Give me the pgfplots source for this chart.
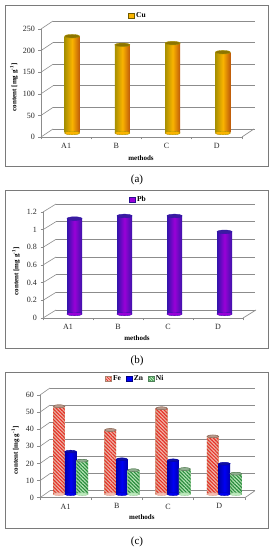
\documentclass[border=0pt]{standalone}
\usepackage{fontspec}
\setmainfont{Liberation Serif}
\usepackage{pgfplots}
\usepackage{pgfplotstable}
\pgfplotsset{compat=1.18}
\usetikzlibrary{patterns.meta}
\definecolor{gridc}{HTML}{8C8C8C}
\definecolor{framec}{HTML}{7A7A7A}
% Cu
\definecolor{cuL}{HTML}{A89000}\definecolor{cuM}{HTML}{FAB400}\definecolor{cuR}{HTML}{BE5A0A}
\definecolor{cuT}{HTML}{8C7400}\definecolor{cuE}{HTML}{6E5A00}
% Pb
\definecolor{pbL}{HTML}{3214AA}\definecolor{pbM}{HTML}{9A00D8}\definecolor{pbR}{HTML}{3C14AA}
\definecolor{pbT}{HTML}{3A1CA0}\definecolor{pbE}{HTML}{2A1090}
% Fe
\definecolor{feL}{HTML}{F8B8AE}\definecolor{feR}{HTML}{D8AC94}\definecolor{feH}{HTML}{E63228}
\definecolor{feT}{HTML}{B89A8C}\definecolor{feE}{HTML}{806050}\definecolor{feD}{HTML}{AA826E}
% Zn
\definecolor{znL}{HTML}{0000AA}\definecolor{znM}{HTML}{0000F5}
\definecolor{znT}{HTML}{1010A0}\definecolor{znE}{HTML}{000080}
% Ni
\definecolor{niL}{HTML}{BCEABC}\definecolor{niR}{HTML}{9CCF9C}\definecolor{niH}{HTML}{288C3C}
\definecolor{niT}{HTML}{90B090}\definecolor{niE}{HTML}{507050}\definecolor{niD}{HTML}{50825A}
\pgfplotsset{
  front/.style={
    scale only axis, anchor=south west, clip=false,
    xmin=0, xmax=4, axis lines=left, axis line style={-,gridc,line width=0.7pt},
    xtick={0,1,2,3,4}, x tick label as interval, xticklabels={A1,B,C,D},
    tick style={gridc,line width=0.5pt}, tick align=outside, major tick length=2.5pt,
    /pgf/number format/assume math mode=true,
    tick label style={font=\fontsize{8}{9.5}\selectfont, text=black!85},
    label style={font=\bfseries\fontsize{7}{8}\selectfont},
    xlabel={methods}, ylabel={content [mg g\textsuperscript{-1}]},
  },
  backw/.style={
    scale only axis, anchor=south west, clip=false,
    xmin=0, xmax=4, xtick=\empty, ymajorgrids, yticklabels={},
    major tick length=0pt, axis line style={draw=none},
    major grid style={gridc,line width=0.8pt},
  },
  bars/.style={
    scale only axis, anchor=south west, clip=false, hide axis,
    xmin=0, xmax=4,
    legend style={draw=none, fill=none, font=\bfseries\fontsize{7.5}{9}\selectfont,
      legend columns=-1, inner sep=1pt,
      /tikz/every even column/.append style={column sep=3pt}},
  },
  sq/.style={legend image code/.code={\draw[##1] (0pt,-2.5pt) rectangle (5.5pt,2.5pt);}},
  capm/.style n args={3}{only marks, forget plot, mark=*, mark size=#1,
    mark options={xscale=1, yscale=0.24, fill=#2, draw=#3, line width=0.4pt}},
  base/.style n args={3}{only marks, forget plot, mark=*, mark size=#1,
    mark options={xscale=1, yscale=0.24, fill=#2, draw=#3, line width=0.4pt}},
  hatchFe/.style={forget plot, ybar, bar shift=0pt, draw=none,
    pattern={Lines[angle=-45,distance=2.5pt,line width=1.1pt]}, pattern color=feH},
  hatchNi/.style={forget plot, ybar, bar shift=0pt, draw=none,
    pattern={Lines[angle=-45,distance=2.5pt,line width=1.1pt]}, pattern color=niH},
}
% one cylinder: #1 half width, #2 bar width, #3 #4 #5 colours L M R, #6 cap colour, #7 x, #8 y
\newcommand{\cyl}[8]{%
  \addplot[base={#1}{#4}{#3}] coordinates {(#7,0)};
  \addplot[forget plot, ybar, bar shift=0pt, bar width=#2, draw=none,
     left color=#3, right color=#5, middle color=#4] coordinates {(#7,#8)};
  \addplot[capm={#1}{#6}{#3}] coordinates {(#7,#8)};
}
\begin{document}
\begin{tikzpicture}[x=1pt,y=1pt]
\useasboundingbox (0,0) rectangle (274,550);
\draw[framec,line width=0.7pt] (5,384) rectangle (268,545);
\draw[framec,line width=0.7pt] (5,202) rectangle (268,360);
\draw[framec,line width=0.7pt] (5,22) rectangle (268,178);
\node[font=\fontsize{11}{13}\selectfont] at (137,370) {(a)};
\node[font=\fontsize{11}{13}\selectfont] at (137,189) {(b)};
\node[font=\fontsize{11}{13}\selectfont] at (137,8.5) {(c)};

% ---------- panel a
\begin{axis}[backw, at={(53pt,421pt)}, width=202pt, height=108pt,
  ymin=0, ymax=250, ytick={0,50,100,150,200,250}]
\end{axis}
\begin{axis}[front, at={(41pt,413pt)}, width=201pt, height=108pt,
  ymin=0, ymax=250, ytick={0,50,100,150,200,250},
  ylabel style={at={(axis description cs:-0.134,0.46)},anchor=center,rotate=0},
  xlabel style={at={(axis description cs:0.4975,-0.194)},anchor=center}]
\pgfplotsinvokeforeach{0,50,100,150,200,250}{
  \draw[gridc,line width=0.6pt] (axis cs:0,#1) -- ++(12pt,8pt);}
\draw[gridc,line width=0.7pt] (axis cs:4,0) -- ++(12pt,8pt);
\end{axis}
\begin{axis}[bars, at={(47pt,417pt)}, width=201pt, height=108pt, ymin=0, ymax=250,
  legend style={at={(axis description cs:0.453,1.083)},anchor=center}]
\addlegendimage{sq, draw=cuE, fill=cuM}\addlegendentry{Cu}
\cyl{7.5pt}{15pt}{cuL}{cuM}{cuR}{cuT}{0.5}{224}
\cyl{7.5pt}{15pt}{cuL}{cuM}{cuR}{cuT}{1.5}{204}
\cyl{7.5pt}{15pt}{cuL}{cuM}{cuR}{cuT}{2.5}{208}
\cyl{7.5pt}{15pt}{cuL}{cuM}{cuR}{cuT}{3.5}{187}
\end{axis}

% ---------- panel b
\begin{axis}[backw, at={(56pt,240pt)}, width=199pt, height=106pt,
  ymin=0, ymax=1.2, ytick={0,0.2,0.4,0.6,0.8,1,1.2}]
\end{axis}
\begin{axis}[front, at={(43pt,232pt)}, width=200pt, height=106pt,
  ymin=0, ymax=1.2, ytick={0,0.2,0.4,0.6,0.8,1,1.2},
  ylabel style={at={(axis description cs:-0.135,0.44)},anchor=center,rotate=0},
  xlabel style={at={(axis description cs:0.47,-0.19)},anchor=center}]
\pgfplotsinvokeforeach{0,0.2,0.4,0.6,0.8,1,1.2}{
  \draw[gridc,line width=0.6pt] (axis cs:0,#1) -- ++(13pt,8pt);}
\draw[gridc,line width=0.7pt] (axis cs:4,0) -- ++(13pt,8pt);
\end{axis}
\begin{axis}[bars, at={(49.5pt,236pt)}, width=200pt, height=106pt, ymin=0, ymax=1.2,
  legend style={at={(axis description cs:0.445,1.075)},anchor=center}]
\addlegendimage{sq, draw=pbE, fill=pbM}\addlegendentry{Pb}
\cyl{7.5pt}{15pt}{pbL}{pbM}{pbR}{pbT}{0.5}{1.08}
\cyl{7.5pt}{15pt}{pbL}{pbM}{pbR}{pbT}{1.5}{1.11}
\cyl{7.5pt}{15pt}{pbL}{pbM}{pbR}{pbT}{2.5}{1.11}
\cyl{7.5pt}{15pt}{pbL}{pbM}{pbR}{pbT}{3.5}{0.93}
\end{axis}

% ---------- panel c
\begin{axis}[backw, at={(50pt,59.3pt)}, width=205pt, height=102.7pt,
  ymin=0, ymax=60, ytick={0,10,20,30,40,50,60}]
\end{axis}
\begin{axis}[front, at={(40pt,52.3pt)}, width=205pt, height=102.7pt,
  ymin=0, ymax=60, ytick={0,10,20,30,40,50,60},
  ylabel style={at={(axis description cs:-0.12,0.46)},anchor=center,rotate=0},
  xlabel style={at={(axis description cs:0.497,-0.185)},anchor=center}]
\pgfplotsinvokeforeach{0,10,20,30,40,50,60}{
  \draw[gridc,line width=0.6pt] (axis cs:0,#1) -- ++(10pt,7pt);}
\draw[gridc,line width=0.7pt] (axis cs:4,0) -- ++(10pt,7pt);
\end{axis}
\begin{axis}[bars, at={(45pt,55.8pt)}, width=205pt, height=102.7pt, ymin=0, ymax=60,
  legend style={at={(axis description cs:0.44,1.125)},anchor=center}]
\addlegendimage{sq, draw=feD, fill=feL, postaction={pattern={Lines[angle=-45,distance=2pt,line width=.7pt]}, pattern color=feH}}\addlegendentry{Fe}
\addlegendimage{sq, draw=znE, fill=znM}\addlegendentry{Zn}
\addlegendimage{sq, draw=niD, fill=niL, postaction={pattern={Lines[angle=-45,distance=2pt,line width=.7pt]}, pattern color=niH}}\addlegendentry{Ni}
% Fe
\cyl{5.8pt}{11.7pt}{feR}{feL}{feR}{feT}{0.275}{51.4}
\addplot[hatchFe, bar width=11.7pt] coordinates {(0.275,51.4)};
\addplot[capm={5.8pt}{feT}{feE}] coordinates {(0.275,51.4)};
\cyl{5.8pt}{11.7pt}{feR}{feL}{feR}{feT}{1.275}{37.5}
\addplot[hatchFe, bar width=11.7pt] coordinates {(1.275,37.5)};
\addplot[capm={5.8pt}{feT}{feE}] coordinates {(1.275,37.5)};
\cyl{5.8pt}{11.7pt}{feR}{feL}{feR}{feT}{2.275}{50.2}
\addplot[hatchFe, bar width=11.7pt] coordinates {(2.275,50.2)};
\addplot[capm={5.8pt}{feT}{feE}] coordinates {(2.275,50.2)};
\cyl{5.8pt}{11.7pt}{feR}{feL}{feR}{feT}{3.275}{33.8}
\addplot[hatchFe, bar width=11.7pt] coordinates {(3.275,33.8)};
\addplot[capm={5.8pt}{feT}{feE}] coordinates {(3.275,33.8)};
% Zn
\cyl{5.8pt}{11.7pt}{znL}{znM}{znL}{znT}{0.5}{24.9}
\cyl{5.8pt}{11.7pt}{znL}{znM}{znL}{znT}{1.5}{20.4}
\cyl{5.8pt}{11.7pt}{znL}{znM}{znL}{znT}{2.5}{19.8}
\cyl{5.8pt}{11.7pt}{znL}{znM}{znL}{znT}{3.5}{17.8}
% Ni
\cyl{5.8pt}{11.7pt}{niR}{niL}{niR}{niT}{0.725}{19.6}
\addplot[hatchNi, bar width=11.7pt] coordinates {(0.725,19.6)};
\addplot[capm={5.8pt}{niT}{niE}] coordinates {(0.725,19.6)};
\cyl{5.8pt}{11.7pt}{niR}{niL}{niR}{niT}{1.725}{14.0}
\addplot[hatchNi, bar width=11.7pt] coordinates {(1.725,14.0)};
\addplot[capm={5.8pt}{niT}{niE}] coordinates {(1.725,14.0)};
\cyl{5.8pt}{11.7pt}{niR}{niL}{niR}{niT}{2.725}{14.7}
\addplot[hatchNi, bar width=11.7pt] coordinates {(2.725,14.7)};
\addplot[capm={5.8pt}{niT}{niE}] coordinates {(2.725,14.7)};
\cyl{5.8pt}{11.7pt}{niR}{niL}{niR}{niT}{3.725}{12.0}
\addplot[hatchNi, bar width=11.7pt] coordinates {(3.725,12.0)};
\addplot[capm={5.8pt}{niT}{niE}] coordinates {(3.725,12.0)};
\end{axis}
\end{tikzpicture}
\end{document}
